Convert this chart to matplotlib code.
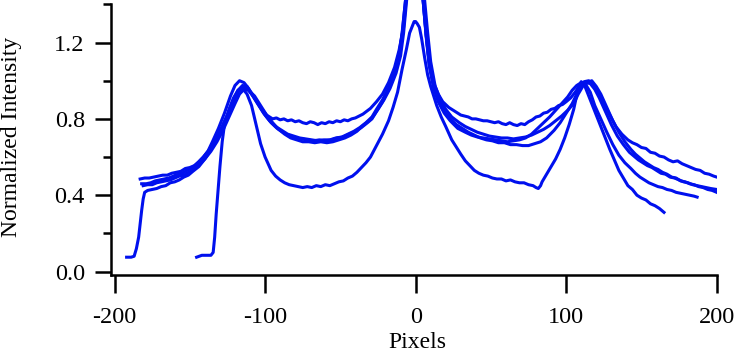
import matplotlib
matplotlib.use("Agg")
import matplotlib.pyplot as plt
from matplotlib.ticker import FixedLocator

plt.rcParams['font.family'] = ['Liberation Serif', 'DejaVu Serif']
plt.rcParams['axes.unicode_minus'] = False

# curve A - upper trace (flat part near 0.78)
a_x = [-183, -180, -177, -174, -171, -168, -165, -162, -159, -156, -153, -150, -147, -144,
       -141, -138, -135, -131, -127, -123, -120, -117, -114, -111, -107, -103, -99,
       -95, -92.5, -90, -87.5, -85, -82.5, -80, -77.5, -75, -72.5, -70, -67.5, -65, -62.5,
       -60, -57.5, -55, -52.5, -50, -47.5, -45, -42.5, -40, -37.5, -35, -32.5, -30,
       -26, -22, -18, -14, -11, -8, -6, -3,
       3, 5, 7, 9, 12, 15, 18, 22, 26,
       30, 32.5, 35, 37.5, 40, 42.5, 45, 47.5, 50, 52.5, 55, 57.5, 60, 62.5, 65, 67.5, 70,
       72.5, 75, 77.5, 80, 82.5, 85, 87.5, 90, 92.5, 95, 97.5, 100,
       103, 106, 109, 112, 115, 118, 121, 125, 129, 133, 137,
       141, 144, 147, 150, 153, 156, 159, 162, 165, 168, 171, 174, 177, 180, 183, 186, 189,
       192, 195, 198, 200]
a_y = [0.485, 0.49, 0.49, 0.495, 0.50, 0.505, 0.505, 0.515, 0.52, 0.525, 0.54, 0.545, 0.555,
       0.575, 0.60, 0.63, 0.68, 0.75, 0.83, 0.92, 0.975, 1.0, 0.99, 0.96, 0.91, 0.86, 0.82,
       0.80, 0.805, 0.795, 0.80, 0.79, 0.795, 0.785, 0.79, 0.78, 0.775, 0.785, 0.78, 0.77,
       0.78, 0.775, 0.785, 0.78, 0.79, 0.785, 0.795, 0.79, 0.80, 0.805, 0.815, 0.825, 0.84,
       0.855,
       0.89, 0.93, 0.99, 1.07, 1.16, 1.28, 1.45, 1.7,
       1.7, 1.42, 1.24, 1.10, 0.99, 0.93, 0.89, 0.86, 0.84,
       0.82, 0.815, 0.81, 0.80, 0.80, 0.795, 0.79, 0.79, 0.785, 0.78, 0.785, 0.775, 0.77,
       0.78, 0.77, 0.765, 0.775, 0.77, 0.785, 0.795, 0.81, 0.815, 0.83, 0.835, 0.85, 0.855,
       0.87, 0.875, 0.89,
       0.91, 0.94, 0.975, 0.995, 1.0, 0.975, 0.94, 0.88, 0.82, 0.76, 0.72,
       0.69, 0.675, 0.665, 0.65, 0.645, 0.625, 0.62, 0.605, 0.60, 0.585, 0.575, 0.58, 0.565,
       0.555, 0.545, 0.535, 0.53, 0.515, 0.51, 0.50, 0.495]

# curve B - middle trace, ends at 200 lowest
b_x = [-182, -179, -176, -173, -170, -167, -164, -161, -158, -155, -152, -149, -146, -141,
       -137, -133, -129, -125, -121, -118, -115, -112, -108, -104, -100, -96, -92, -88,
       -84, -80, -76, -72, -68, -64, -60, -56, -52, -48, -44, -40, -36, -32, -29,
       -26, -22, -18, -14, -11, -9, -7, -3,
       3, 6, 8, 10, 13, 16, 20, 24, 29, 33, 37, 41, 45, 49, 53, 57, 61, 65, 69, 73, 77, 81,
       85, 89, 93, 97, 101, 105, 108, 111, 114, 117, 120, 123, 127, 131, 135, 139, 143,
       146, 149, 152, 155, 158, 161, 164, 167, 170, 173, 176, 179, 182, 185, 188, 191, 194,
       197, 200]
b_y = [0.46, 0.46, 0.465, 0.475, 0.48, 0.485, 0.49, 0.50, 0.51, 0.515, 0.53, 0.54, 0.56,
       0.60, 0.64, 0.69, 0.75, 0.82, 0.89, 0.94, 0.97, 0.96, 0.92, 0.87, 0.82, 0.78, 0.75,
       0.73, 0.71, 0.70, 0.695, 0.69, 0.685, 0.69, 0.685, 0.69, 0.70, 0.705, 0.72, 0.735,
       0.755, 0.78, 0.80,
       0.84, 0.89, 0.96, 1.05, 1.14, 1.25, 1.4, 1.7,
       1.7, 1.42, 1.25, 1.10, 0.97, 0.91, 0.85, 0.81, 0.78, 0.76, 0.745, 0.73, 0.72, 0.71,
       0.705, 0.70, 0.70, 0.695, 0.70, 0.705, 0.715, 0.73, 0.745, 0.765, 0.79, 0.815, 0.845,
       0.88, 0.93, 0.97, 0.99, 1.0, 0.97, 0.93, 0.86, 0.79, 0.73, 0.68, 0.64,
       0.615, 0.595, 0.575, 0.56, 0.545, 0.535, 0.52, 0.51, 0.495, 0.49, 0.475, 0.47, 0.46,
       0.455, 0.445, 0.44, 0.43, 0.425, 0.415]

# curve C - middle trace, slightly lower in the flat parts
c_x = [-181, -178, -175, -172, -169, -166, -163, -160, -157, -154, -151, -148, -145, -140,
       -136, -132, -128, -124, -120, -117, -114, -111, -107, -103, -99, -95, -91, -87,
       -83, -79, -75, -71, -67, -63, -59, -55, -51, -47, -43, -39, -35, -31, -28,
       -25, -21, -17, -13, -10, -8, -6, -3,
       3, 5, 7, 9, 12, 15, 19, 23, 27, 31, 35, 39, 43, 47, 51, 55, 59, 63, 67, 71, 75, 79,
       83, 87, 92, 96, 100, 104, 107, 110, 113, 116, 119, 122, 126, 130, 134, 138, 142,
       145, 148, 151, 154, 157, 160, 163, 166, 169, 172, 175, 178, 181, 184, 187, 190, 193,
       196, 200]
c_y = [0.45, 0.455, 0.455, 0.465, 0.47, 0.475, 0.48, 0.49, 0.50, 0.505, 0.52, 0.53, 0.55,
       0.59, 0.63, 0.68, 0.74, 0.81, 0.88, 0.93, 0.955, 0.95, 0.92, 0.87, 0.82, 0.78, 0.745,
       0.72, 0.70, 0.69, 0.68, 0.68, 0.675, 0.68, 0.675, 0.68, 0.69, 0.70, 0.715, 0.735,
       0.765, 0.79, 0.815,
       0.85, 0.90, 0.96, 1.04, 1.13, 1.25, 1.42, 1.7,
       1.7, 1.42, 1.24, 1.09, 0.97, 0.90, 0.84, 0.80, 0.77, 0.75, 0.73, 0.715, 0.70, 0.69,
       0.685, 0.675, 0.675, 0.665, 0.665, 0.66, 0.66, 0.67, 0.68, 0.70, 0.74, 0.78, 0.83,
       0.88, 0.93, 0.97, 0.99, 0.985, 0.955, 0.91, 0.84, 0.77, 0.71, 0.665, 0.625,
       0.605, 0.585, 0.57, 0.555, 0.545, 0.53, 0.515, 0.51, 0.495, 0.49, 0.48, 0.47, 0.465,
       0.455, 0.45, 0.445, 0.44, 0.435, 0.43]

# curve D - starts with a step from the floor near -190, ends at 187
d_x = [-192, -189, -187, -185.5, -184, -183, -182, -181, -180, -178, -175, -172, -169, -166,
       -163, -160, -157, -154, -151, -148, -144, -140, -136, -132, -128, -124, -121, -118,
       -115, -112, -109, -105, -101, -97, -93, -89, -85, -81, -77, -73, -69, -65, -61, -57,
       -53, -49, -45, -41, -37, -33, -29,
       -26, -22, -18, -14, -11, -9, -7, -3,
       3, 5, 7, 9, 12, 15, 19, 23, 28, 33, 37, 41, 45, 49, 53, 57, 61, 65, 69, 73, 77, 81,
       85, 89, 93, 97, 101, 104, 107, 110, 113, 116, 119, 123, 127, 131, 135, 139, 143, 146,
       149, 152, 155, 158, 161, 164, 167, 170, 173, 176, 179, 182, 185, 187]
d_y = [0.075, 0.075, 0.08, 0.12, 0.18, 0.25, 0.32, 0.38, 0.415, 0.425, 0.43, 0.435, 0.445,
       0.45, 0.465, 0.47, 0.48, 0.495, 0.505, 0.525, 0.55, 0.59, 0.64, 0.70, 0.77, 0.84,
       0.90, 0.95, 0.975, 0.97, 0.93, 0.88, 0.83, 0.79, 0.76, 0.74, 0.72, 0.71, 0.70, 0.695,
       0.69, 0.685, 0.69, 0.69, 0.70, 0.705, 0.72, 0.735, 0.755, 0.78, 0.81,
       0.85, 0.90, 0.96, 1.04, 1.13, 1.24, 1.4, 1.7,
       1.7, 1.42, 1.23, 1.08, 0.96, 0.89, 0.83, 0.79, 0.75, 0.73, 0.715, 0.705, 0.70, 0.695,
       0.69, 0.685, 0.68, 0.685, 0.69, 0.70, 0.72, 0.75, 0.78, 0.81, 0.845, 0.88, 0.915, 0.95,
       0.975, 0.99, 0.98, 0.94, 0.87, 0.80, 0.73, 0.665, 0.61, 0.57, 0.54,
       0.515, 0.495, 0.48, 0.465, 0.455, 0.445, 0.44, 0.43, 0.425, 0.415, 0.41, 0.405, 0.40,
       0.395, 0.39]

# curve E - lowest trace, step from the floor near -140, centre peak at 1.31
e_x = [-145.5, -142, -139, -136, -134.5, -133.5, -132.5, -131, -130, -128.5, -127, -124,
       -121, -118, -115, -112, -109, -106, -103, -100,
       -96, -93, -90, -87, -84, -81, -78, -75, -72, -69, -66, -63, -60, -57, -54, -51, -48,
       -45, -42, -39, -36, -33, -30,
       -26, -22, -18, -15, -12, -9, -6, -4, -2, -1,
       0, 1, 2.5, 4, 6, 8, 10, 12, 14, 17, 20, 24, 28, 30,
       33, 36, 39, 42, 45, 48, 51, 54, 57, 60, 63, 66, 69, 72, 75, 78, 80, 81.5, 83, 84,
       87, 90, 93, 96, 99, 102, 105, 108, 110, 112, 114, 117, 120, 123, 126, 129, 132, 135,
       138, 141, 144, 147, 150, 153, 156, 159, 162, 165]
e_y = [0.075, 0.085, 0.085, 0.085, 0.10, 0.18, 0.30, 0.45, 0.55, 0.68, 0.77, 0.85, 0.91,
       0.95, 0.96, 0.93, 0.87, 0.77, 0.67, 0.60,
       0.53, 0.50, 0.48, 0.465, 0.455, 0.45, 0.445, 0.44, 0.445, 0.44, 0.45, 0.445, 0.455,
       0.45, 0.46, 0.47, 0.475, 0.49, 0.50, 0.52, 0.545, 0.57, 0.60,
       0.66, 0.72, 0.79, 0.86, 0.94, 1.06, 1.17, 1.25, 1.29, 1.31,
       1.31, 1.30, 1.28, 1.22, 1.12, 1.03, 0.97, 0.92, 0.87, 0.81, 0.76, 0.69, 0.64, 0.615,
       0.58, 0.555, 0.53, 0.515, 0.505, 0.50, 0.49, 0.485, 0.485, 0.475, 0.48, 0.47, 0.465,
       0.465, 0.455, 0.45, 0.44, 0.435, 0.45, 0.47,
       0.51, 0.55, 0.59, 0.64, 0.70, 0.77, 0.85, 0.96, 0.995, 0.98, 0.94, 0.88, 0.82, 0.76,
       0.70, 0.64, 0.585, 0.53, 0.49, 0.45, 0.43, 0.40, 0.385, 0.375, 0.355, 0.345, 0.33,
       0.31]

curves = [(a_x, a_y), (b_x, b_y), (c_x, c_y), (d_x, d_y), (e_x, e_y)]

x_ticks = [-200, -100, 0, 100, 200]
y_ticks = [0.0, 0.4, 0.8, 1.2]
y_minor = [0.2, 0.6, 1.0, 1.4]

fig = plt.figure(figsize=(7.38, 3.6), dpi=100)
ax = fig.add_axes([110.5 / 738, 85 / 360, 606.2 / 738, 275 / 360])

for xs, ys in curves:
    ax.plot(xs, ys, color='#0010ee', lw=2.2, solid_joinstyle='round')

ax.set_xlim(-202.7, 200)
ax.set_ylim(-0.0183, 1.4231)

for s in ['top', 'right']:
    ax.spines[s].set_visible(False)
for s in ['left', 'bottom']:
    ax.spines[s].set_linewidth(1.8)
ax.spines['left'].set_bounds(-0.0183, 1.4)

ax.set_xticks(x_ticks)
ax.set_xticklabels([str(v) for v in x_ticks])
ax.set_yticks(y_ticks)
ax.set_yticklabels(['%.1f' % v for v in y_ticks])
ax.yaxis.set_minor_locator(FixedLocator(y_minor))

ax.tick_params(axis='x', which='major', length=13, width=1.8, pad=10, labelsize=17.5)
ax.tick_params(axis='y', which='major', length=11.5, width=1.8, pad=7, labelsize=17.5)
ax.tick_params(axis='y', which='minor', length=6, width=1.8)

ax.set_ylabel('Normalized Intensity', fontsize=17)
ax.yaxis.set_label_coords((22 - 110.5) / 606.2, 0.503)
fig.text(417 / 738, 1 - 343 / 360, 'Pixels', ha='center', va='center', fontsize=17)

fig.savefig('out.png', dpi=100)
